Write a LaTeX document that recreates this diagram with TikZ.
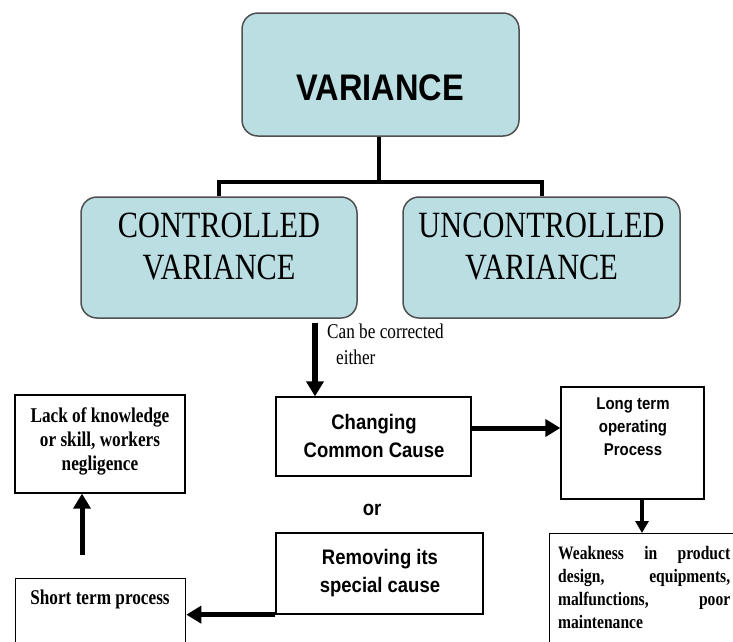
\documentclass[tikz,border=0pt]{standalone}
\usepackage{fontspec}
\usetikzlibrary{arrows.meta,calc}
\newfontfamily\serifc{Liberation Serif}[FakeStretch=0.82]
\newfontfamily\sansc{Liberation Sans}[FakeStretch=0.88]
\definecolor{boxblue}{RGB}{186,222,226}
\definecolor{boxedge}{RGB}{80,80,80}
\tikzset{
  rbox/.style={draw=boxedge, line width=1.5pt, fill=boxblue, rounded corners=16pt, inner sep=0pt},
  sbox/.style={draw=black, line width=1.3pt, fill=white, inner sep=0pt},
  tree/.style={line width=4pt},
  arr/.style={line width=5pt, -{Triangle[length=15pt,width=17pt]}},
  arrthin/.style={line width=4pt, -{Triangle[length=12pt,width=13pt]}},
  bigserif/.style={inner sep=0pt, align=center, font=\serifc\fontsize{37}{42}\selectfont},
  sanstxt/.style={inner sep=0pt, align=center, font=\sansc\bfseries\fontsize{21}{28}\selectfont},
  seriftxt/.style={inner sep=0pt, align=center, font=\serifc\bfseries\fontsize{21}{24}\selectfont},
}
\begin{document}
\begin{tikzpicture}[x=1pt,y=-1pt]
\useasboundingbox (0,0) rectangle (733,641);
\clip (0,0) rectangle (733,641);
% top level
\node[rbox, minimum width=277pt, minimum height=123pt] (var) at (380.5,74.5) {};
\node[inner sep=0pt, font=\sansc\bfseries\fontsize{37}{40}\selectfont] (vart) at (380,88) {VARIANCE};
\node[rbox, minimum width=276pt, minimum height=121pt] (ctl) at (219,257.5) {};
\node[bigserif] (ctlt) at (219,247) {CONTROLLED\\VARIANCE};
\node[rbox, minimum width=277pt, minimum height=121pt] (unc) at (541.5,257.5) {};
\node[bigserif] (unct) at (541.5,247) {UNCONTROLLED\\VARIANCE};
% tree
\coordinate (j) at (379,182);
\draw[tree] (var.south -| j) -- (j);
\draw[tree] (ctl.north) |- (j) -| (unc.north);
% lower boxes
\node[sbox, minimum width=195pt, minimum height=79pt] (chg) at (373.5,436.5) {};
\node[sanstxt] (chgt) at (374,436) {Changing\\Common Cause};
\node[sbox, minimum width=207pt, minimum height=81pt] (rem) at (379.5,573.5) {};
\node[sanstxt] (remt) at (380,573) {Removing its\\special cause};
\node[sanstxt] (ort) at (372,510) {or};
\node[sbox, minimum width=143pt, minimum height=112pt] (lt) at (632.5,443) {};
\node[inner sep=0pt, align=center, font=\sansc\bfseries\fontsize{17}{23}\selectfont] (ltt) at (633,427) {Long term\\operating\\Process};
\node[sbox, minimum width=211pt, minimum height=127pt, anchor=north west] (wk) at (549,533) {};
\node[anchor=north west, inner sep=0pt, align=left, font=\serifc\bfseries\fontsize{19}{23}\selectfont] (wkt) at (558,546)
  {\makebox[172pt][s]{Weakness in product}\\\makebox[172pt][s]{design, equipments,}\\\makebox[172pt][s]{malfunctions, poor}\\maintenance};
\node[sbox, minimum width=170pt, minimum height=98pt] (lack) at (100,444) {};
\node[seriftxt] (lackt) at (100,441) {Lack of knowledge\\or skill, workers\\negligence};
\node[sbox, minimum width=170pt, minimum height=90pt, anchor=north west] (st) at (15,578) {};
\node[seriftxt] (stt) at (100,599) {Short term process};
% label
\node[anchor=north west, inner sep=0pt, align=left, font=\serifc\fontsize{21}{26}\selectfont] (cbc) at (327,324) {Can be corrected\\\hspace*{9pt}either};
% arrows
\coordinate (a1) at (315,323);
\draw[arr, line width=6pt] (a1) -- (a1 |- chg.north);
\coordinate (a2) at (0,428);
\draw[arr] (chg.east |- a2) -- (lt.west |- a2);
\coordinate (a3) at (642,0);
\draw[arrthin] (lt.south -| a3) -- (wk.north -| a3);
\draw[arr] (rem.south west) -- (rem.south west -| st.east);
\coordinate (a5) at (82,555);
\draw[arr] (a5) -- (a5 |- lack.south);
\end{tikzpicture}
\end{document}
